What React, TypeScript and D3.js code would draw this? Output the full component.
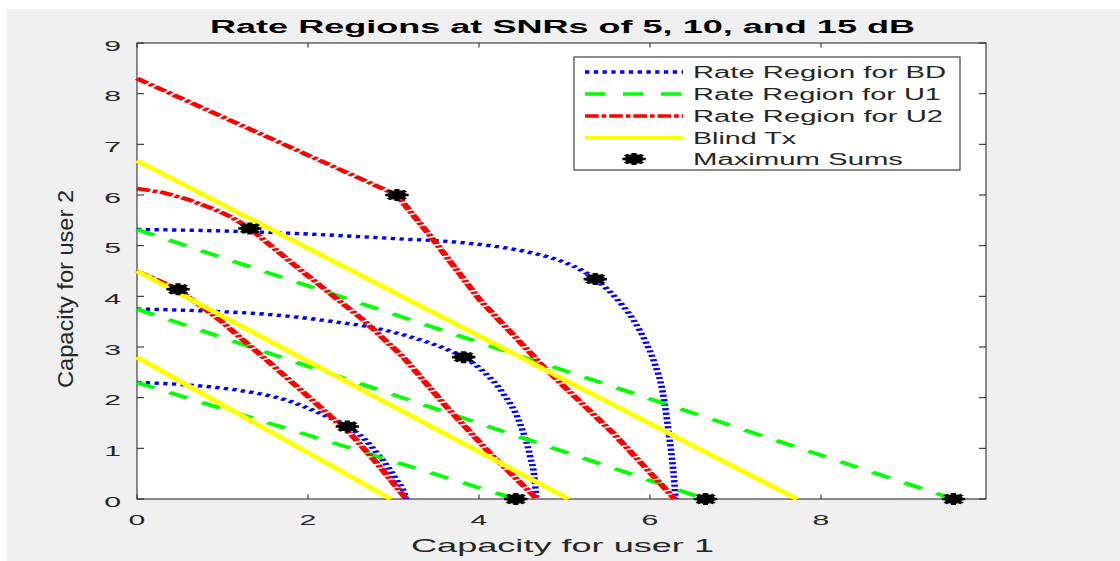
import React from "react";
import * as d3 from "d3";

// ---------- data ----------
const X_MAX = 9.93;
const Y_MAX = 9;
const xTicks = [0, 2, 4, 6, 8];
const yTicks = [0, 1, 2, 3, 4, 5, 6, 7, 8, 9];

type P = [number, number];

// Rate Region for BD (blue dotted) at 5, 10, 15 dB
const bd5: P[] = [[0, 2.3], [0.6, 2.25], [1.17, 2.15], [1.75, 1.95], [2.14, 1.69], [2.46, 1.43], [2.65, 1.2], [2.81, 0.9], [2.95, 0.6], [3.04, 0.37], [3.12, 0.15], [3.15, 0]];
const bd10: P[] = [[0, 3.75], [0.8, 3.71], [1.56, 3.64], [2.3, 3.5], [2.8, 3.37], [3.35, 3.12], [3.6, 2.97], [3.82, 2.8], [4.05, 2.52], [4.28, 2.09], [4.48, 1.49], [4.6, 0.83], [4.65, 0.4], [4.67, 0]];
const bd15: P[] = [[0, 5.32], [1, 5.29], [2, 5.23], [3, 5.14], [3.8, 5.06], [4.4, 4.93], [4.8, 4.78], [5.1, 4.6], [5.36, 4.34], [5.6, 3.97], [5.8, 3.55], [5.95, 3.1], [6.05, 2.7], [6.15, 2.1], [6.22, 1.3], [6.27, 0.6], [6.3, 0]];

// Rate Region for U1 (green dashed)
const u1_5: P[] = [[0, 2.3], [4.43, 0]];
const u1_10: P[] = [[0, 3.75], [6.65, 0]];
const u1_15: P[] = [[0, 5.32], [9.55, 0]];

// Rate Region for U2 (red dash-dot)
const u2_5: P[] = [[0, 4.5], [0.48, 4.14], [0.97, 3.53], [1.56, 2.68], [2.14, 1.82], [2.53, 1.23], [2.85, 0.62], [3.15, 0]];
const u2_10: P[] = [[0, 6.13], [0.3, 6.05], [0.6, 5.91], [0.9, 5.72], [1.1, 5.57], [1.32, 5.34], [1.87, 4.58], [2.65, 3.53], [3.11, 2.81], [3.62, 1.82], [4.13, 0.9], [4.68, 0]];
const u2_15: P[] = [[0, 8.3], [3.04, 6.0], [3.47, 5.11], [4.01, 3.93], [4.79, 2.55], [5.57, 1.3], [6.29, 0]];

// Blind Tx (yellow solid)
const blind5: P[] = [[0, 2.8], [2.97, 0]];
const blind10: P[] = [[0, 4.5], [5.05, 0]];
const blind15: P[] = [[0, 6.68], [7.72, 0]];

// Maximum Sums
const maxSums: P[] = [[0.48, 4.14], [1.32, 5.34], [3.04, 6.0], [2.46, 1.43], [3.82, 2.8], [5.36, 4.34], [4.43, 0], [6.65, 0], [9.55, 0]];

const legendLabels = ["Rate Region for BD", "Rate Region for U1", "Rate Region for U2", "Blind Tx", "Maximum Sums"];
const legendWidths = [253, 248, 250, 103, 210];

// ---------- layout ----------
const W = 1120, H = 561;
const S = 1.95; // horizontal stretch of the reference picture
const PL = 137, PR = 986, PT = 43, PB = 499;
const FONT = "'Liberation Sans', Arial, Helvetica, sans-serif";
const AX = "#2e2e2e";

const xF = d3.scaleLinear().domain([0, X_MAX]).range([PL, PR]);
const xU = d3.scaleLinear().domain([0, X_MAX]).range([PL / S, PR / S]);
const y = d3.scaleLinear().domain([0, Y_MAX]).range([PB, PT]);

const lineLin = d3.line<P>().x(d => xU(d[0])).y(d => y(d[1]));
const lineSmooth = d3.line<P>().x(d => xU(d[0])).y(d => y(d[1])).curve(d3.curveMonotoneX);

const styles = {
  bd: { stroke: "#0000ff", strokeWidth: 3.4, strokeDasharray: "2.2,2.3" },
  u1: { stroke: "#00ff00", strokeWidth: 3.4, strokeDasharray: "10.5,9" },
  u2: { stroke: "#ff0000", strokeWidth: 3.6, strokeDasharray: "7,1.5,2.4,1.5" },
  blind: { stroke: "#ffff00", strokeWidth: 3.8, strokeDasharray: "none" },
};

function Marker({ cx, cy }: { cx: number; cy: number }) {
  const r = 6;
  const d = r * 0.72;
  return (
    <g>
      <circle cx={cx} cy={cy} r={4.8} fill="#000" />
      <path
        d={`M${cx - r},${cy}L${cx + r},${cy}M${cx},${cy - r}L${cx},${cy + r}M${cx - d},${cy - d}L${cx + d},${cy + d}M${cx - d},${cy + d}L${cx + d},${cy - d}`}
        stroke="#000"
        strokeWidth={2.6}
        fill="none"
      />
    </g>
  );
}

export default function App() {
  const series = [
    { key: "bd", data: [bd5, bd10, bd15], gen: lineSmooth },
    { key: "u1", data: [u1_5, u1_10, u1_15], gen: lineLin },
    { key: "u2", data: [u2_5, u2_10, u2_15], gen: lineLin },
    { key: "blind", data: [blind5, blind10, blind15], gen: lineLin },
  ] as const;

  const legX0 = 585, legX1 = 683;
  const legRows = [72, 94, 116, 138, 159];

  return (
    <svg width={W} height={H} style={{ position: "absolute", left: 0, top: 0 }} fontFamily={FONT}>
      <rect x={0} y={0} width={W} height={H} fill="#ffffff" />
      <rect x={7} y={9} width={W - 7} height={H - 9} fill="#f0f0f0" />
      <rect x={PL} y={PT} width={PR - PL} height={PB - PT} fill="#ffffff" />

      {/* axes box and ticks */}
      <g stroke={AX} strokeWidth={1.1} fill="none">
        <rect x={PL} y={PT} width={PR - PL} height={PB - PT} />
        {yTicks.map(t => (
          <g key={"yt" + t}>
            <line x1={PL} x2={PL + 7} y1={y(t)} y2={y(t)} />
            <line x1={PR} x2={PR - 7} y1={y(t)} y2={y(t)} />
          </g>
        ))}
        {xTicks.map(t => (
          <g key={"xt" + t}>
            <line x1={xF(t)} x2={xF(t)} y1={PB} y2={PB - 4.5} />
            <line x1={xF(t)} x2={xF(t)} y1={PT} y2={PT + 4.5} />
          </g>
        ))}
      </g>

      {/* tick labels */}
      <g fill="#262626" fontSize={15.5}>
        {yTicks.map(t => (
          <text key={"yl" + t} transform={`translate(121,${y(t) + 7.5}) scale(${S},1)`} textAnchor="end">
            {t}
          </text>
        ))}
        {xTicks.map(t => (
          <text key={"xl" + t} transform={`translate(${xF(t)},525) scale(${S},1)`} textAnchor="middle">
            {t}
          </text>
        ))}
      </g>

      {/* axis labels and title */}
      <text x={562.5} y={552} fontSize={18.5} fill="#262626" textAnchor="middle" textLength={303} lengthAdjust="spacingAndGlyphs">
        Capacity for user 1
      </text>
      <text transform="translate(73,289) rotate(-90)" fontSize={22} fill="#262626" textAnchor="middle" textLength={198} lengthAdjust="spacingAndGlyphs">
        Capacity for user 2
      </text>
      <text x={562.5} y={33} fontSize={17.5} fontWeight="bold" fill="#000" textAnchor="middle" textLength={705} lengthAdjust="spacingAndGlyphs">
        Rate Regions at SNRs of 5, 10, and 15 dB
      </text>

      {/* data marks, drawn in the horizontally stretched frame */}
      <g transform={`scale(${S},1)`}>
        {series.map(s => (
          <g key={s.key}>
            {s.data.map((d, i) => (
              <path key={i} d={s.gen(d) || ""} fill="none" stroke={styles[s.key].stroke} strokeWidth={styles[s.key].strokeWidth} strokeDasharray={styles[s.key].strokeDasharray} />
            ))}
          </g>
        ))}
        {maxSums.map((p, i) => (
          <Marker key={i} cx={xU(p[0])} cy={y(p[1])} />
        ))}
      </g>

      {/* legend */}
      <rect x={574} y={57} width={386} height={113} fill="#ffffff" stroke={AX} strokeWidth={1.1} />
      <g transform={`scale(${S},1)`}>
        {(["bd", "u1", "u2", "blind"] as const).map((k, i) => (
          <line key={k} x1={legX0 / S} x2={legX1 / S} y1={legRows[i]} y2={legRows[i]} stroke={styles[k].stroke} strokeWidth={styles[k].strokeWidth} strokeDasharray={styles[k].strokeDasharray} />
        ))}
        <Marker cx={(legX0 + legX1) / 2 / S} cy={legRows[4]} />
      </g>
      <g fill="#262626" fontSize={16}>
        {legendLabels.map((l, i) => (
          <text key={l} x={693} y={legRows[i] + 5.5} textLength={legendWidths[i]} lengthAdjust="spacingAndGlyphs">
            {l}
          </text>
        ))}
      </g>
    </svg>
  );
}
